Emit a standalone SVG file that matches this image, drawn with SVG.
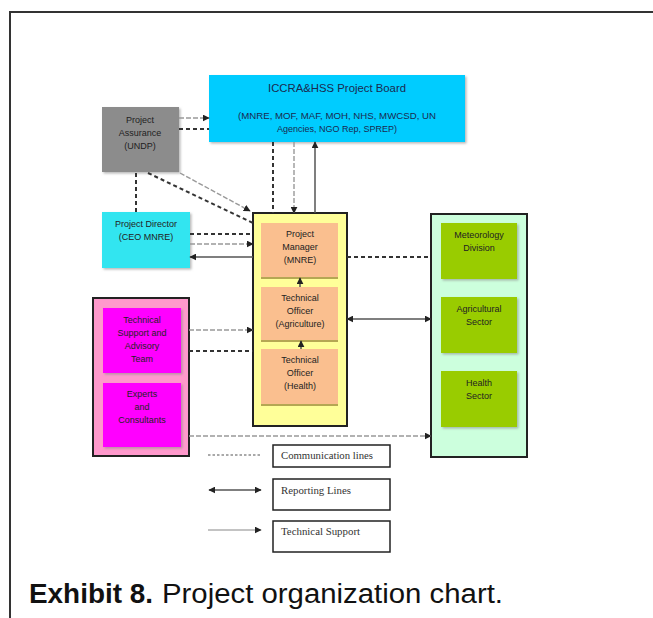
<svg xmlns="http://www.w3.org/2000/svg" width="653" height="618" viewBox="0 0 653 618">
<defs>
<style>
.t{font-family:"Liberation Sans",Arial,sans-serif;font-size:9px;fill:#222;text-anchor:middle}
.lg{font-family:"Liberation Serif","Times New Roman",serif;font-size:10px;fill:#333}
.comm{stroke:#333;stroke-width:2;stroke-dasharray:4 3;fill:none}
.tech{stroke:#999;stroke-width:1.4;stroke-dasharray:5 2;fill:none}
.rep{stroke:#555;stroke-width:1.5;fill:none}
.box{stroke:#222;stroke-width:2}
</style>
<marker id="ah" viewBox="0 0 10 10" refX="9" refY="5" markerWidth="7" markerHeight="7" orient="auto-start-reverse" markerUnits="userSpaceOnUse">
<path d="M0,0 L10,5 L0,10 z" fill="#222"/>
</marker>
<filter id="sh" x="-10%" y="-10%" width="130%" height="130%">
<feDropShadow dx="1.5" dy="1.5" stdDeviation="1" flood-color="#888" flood-opacity="0.6"/>
</filter>
</defs>
<rect width="653" height="618" fill="#fff"/>
<path d="M10,618 V12 H653" fill="none" stroke="#333" stroke-width="2"/>

<g id="board">
<rect x="209" y="75" width="256" height="67" fill="#00CCFF" filter="url(#sh)"/>
<text class="t" x="337" y="92" textLength="138" lengthAdjust="spacingAndGlyphs" style="fill:#1a2a50;font-size:10.5px">ICCRA&amp;HSS Project Board</text>
<text class="t" x="337" y="119" textLength="198" lengthAdjust="spacingAndGlyphs" style="fill:#1a2a50">(MNRE, MOF, MAF, MOH, NHS, MWCSD, UN</text>
<text class="t" x="337" y="132" style="fill:#1a2a50">Agencies, NGO Rep, SPREP)</text>
</g>

<g id="assurance">
<rect x="102" y="107" width="77" height="65" fill="#8C8C8C" filter="url(#sh)"/>
<text class="t" x="140" y="123">Project</text>
<text class="t" x="140" y="136">Assurance</text>
<text class="t" x="140" y="149">(UNDP)</text>
</g>

<g id="director">
<rect x="102" y="212" width="88" height="56" fill="#33E5F0" filter="url(#sh)"/>
<text class="t" x="146" y="227">Project Director</text>
<text class="t" x="146" y="240">(CEO MNRE)</text>
</g>

<g id="manager-group">
<rect class="box" x="253" y="213" width="94" height="213" fill="#FFFF99"/>
<g id="manager">
<rect x="261" y="223" width="77" height="54" fill="#FABF8F"/>
<line x1="261" y1="278" x2="338" y2="278" stroke="#9C8A3C" stroke-width="1.5"/>
<text class="t" x="300" y="237">Project</text>
<text class="t" x="300" y="250">Manager</text>
<text class="t" x="300" y="263">(MNRE)</text>
</g>
<g id="tech-agri">
<rect x="261" y="287" width="77" height="53" fill="#FABF8F"/>
<line x1="261" y1="341" x2="338" y2="341" stroke="#9C8A3C" stroke-width="1.5"/>
<text class="t" x="300" y="301">Technical</text>
<text class="t" x="300" y="314">Officer</text>
<text class="t" x="300" y="327">(Agriculture)</text>
</g>
<g id="tech-health">
<rect x="261" y="349" width="77" height="55" fill="#FABF8F"/>
<line x1="261" y1="405" x2="338" y2="405" stroke="#9C8A3C" stroke-width="1.5"/>
<text class="t" x="300" y="363">Technical</text>
<text class="t" x="300" y="376">Officer</text>
<text class="t" x="300" y="389">(Health)</text>
</g>
</g>

<g id="sectors">
<rect class="box" x="431" y="214" width="96" height="243" fill="#CCFFDD"/>
<g id="met">
<rect x="441" y="223" width="76" height="56" fill="#99CC00" filter="url(#sh)"/>
<text class="t" x="479" y="238">Meteorology</text>
<text class="t" x="479" y="251">Division</text>
</g>
<g id="agri-sector">
<rect x="441" y="297" width="76" height="56" fill="#99CC00" filter="url(#sh)"/>
<text class="t" x="479" y="312">Agricultural</text>
<text class="t" x="479" y="325">Sector</text>
</g>
<g id="health-sector">
<rect x="441" y="371" width="76" height="56" fill="#99CC00" filter="url(#sh)"/>
<text class="t" x="479" y="386">Health</text>
<text class="t" x="479" y="399">Sector</text>
</g>
</g>

<g id="advisory">
<rect class="box" x="93" y="298" width="96" height="158" fill="#FF99CC"/>
<g id="tsat">
<rect x="103" y="308" width="78" height="65" fill="#FF00FF" filter="url(#sh)"/>
<text class="t" x="142" y="323">Technical</text>
<text class="t" x="142" y="336">Support and</text>
<text class="t" x="142" y="349">Advisory</text>
<text class="t" x="142" y="362">Team</text>
</g>
<g id="experts">
<rect x="103" y="383" width="78" height="64" fill="#FF00FF" filter="url(#sh)"/>
<text class="t" x="142" y="397">Experts</text>
<text class="t" x="142" y="410">and</text>
<text class="t" x="142" y="423">Consultants</text>
</g>
</g>

<g id="connectors">
<line class="tech" x1="179" y1="118" x2="209" y2="118" marker-end="url(#ah)"/>
<line class="comm" x1="179" y1="129" x2="209" y2="129"/>
<line class="comm" x1="273" y1="142" x2="273" y2="213"/>
<line class="tech" x1="294" y1="142" x2="294" y2="213" marker-end="url(#ah)"/>
<line class="rep" x1="315" y1="213" x2="315" y2="142" marker-end="url(#ah)"/>
<line class="tech" x1="180" y1="173" x2="250" y2="211" marker-end="url(#ah)"/>
<line class="comm" x1="148" y1="173" x2="253" y2="223"/>
<line class="comm" x1="136" y1="173" x2="136" y2="212"/>
<line class="comm" x1="190" y1="234" x2="253" y2="234"/>
<line class="tech" x1="190" y1="244" x2="253" y2="244" marker-end="url(#ah)"/>
<line class="rep" x1="253" y1="257" x2="190" y2="257" marker-end="url(#ah)"/>
<line class="comm" x1="347" y1="257" x2="431" y2="257"/>
<line class="rep" x1="347" y1="319" x2="431" y2="319" marker-start="url(#ah)" marker-end="url(#ah)"/>
<line class="tech" x1="189" y1="330" x2="253" y2="330" marker-end="url(#ah)"/>
<line class="comm" x1="189" y1="351" x2="253" y2="351"/>
<line class="tech" x1="189" y1="436" x2="431" y2="436" marker-end="url(#ah)"/>
<line class="rep" x1="300" y1="287" x2="300" y2="278" marker-end="url(#ah)"/>
<line class="rep" x1="301" y1="349" x2="301" y2="341" marker-end="url(#ah)"/>
</g>

<g id="legend">
<line x1="208" y1="455" x2="262" y2="455" stroke="#555" stroke-width="1.2" stroke-dasharray="2.5 2"/>
<rect x="273" y="445" width="117" height="22" fill="#fff" stroke="#222" stroke-width="1.5"/>
<text class="lg" x="281" y="459" textLength="92" lengthAdjust="spacingAndGlyphs">Communication lines</text>
<line class="rep" x1="209" y1="490" x2="261" y2="490" marker-start="url(#ah)" marker-end="url(#ah)"/>
<rect x="273" y="479" width="117" height="31" fill="#fff" stroke="#222" stroke-width="1.5"/>
<text class="lg" x="281" y="494" textLength="70" lengthAdjust="spacingAndGlyphs">Reporting Lines</text>
<line x1="208" y1="530" x2="261" y2="530" stroke="#888" stroke-width="1.2" marker-end="url(#ah)"/>
<rect x="273" y="521" width="117" height="31" fill="#fff" stroke="#222" stroke-width="1.5"/>
<text class="lg" x="281" y="535" textLength="79" lengthAdjust="spacingAndGlyphs">Technical Support</text>
</g>

<text y="603" font-family="Liberation Sans,Arial,sans-serif" font-size="27" fill="#111"><tspan x="29" font-weight="bold" textLength="124" lengthAdjust="spacingAndGlyphs">Exhibit 8.</tspan><tspan x="162" textLength="341" lengthAdjust="spacingAndGlyphs">Project organization chart.</tspan></text>
</svg>
